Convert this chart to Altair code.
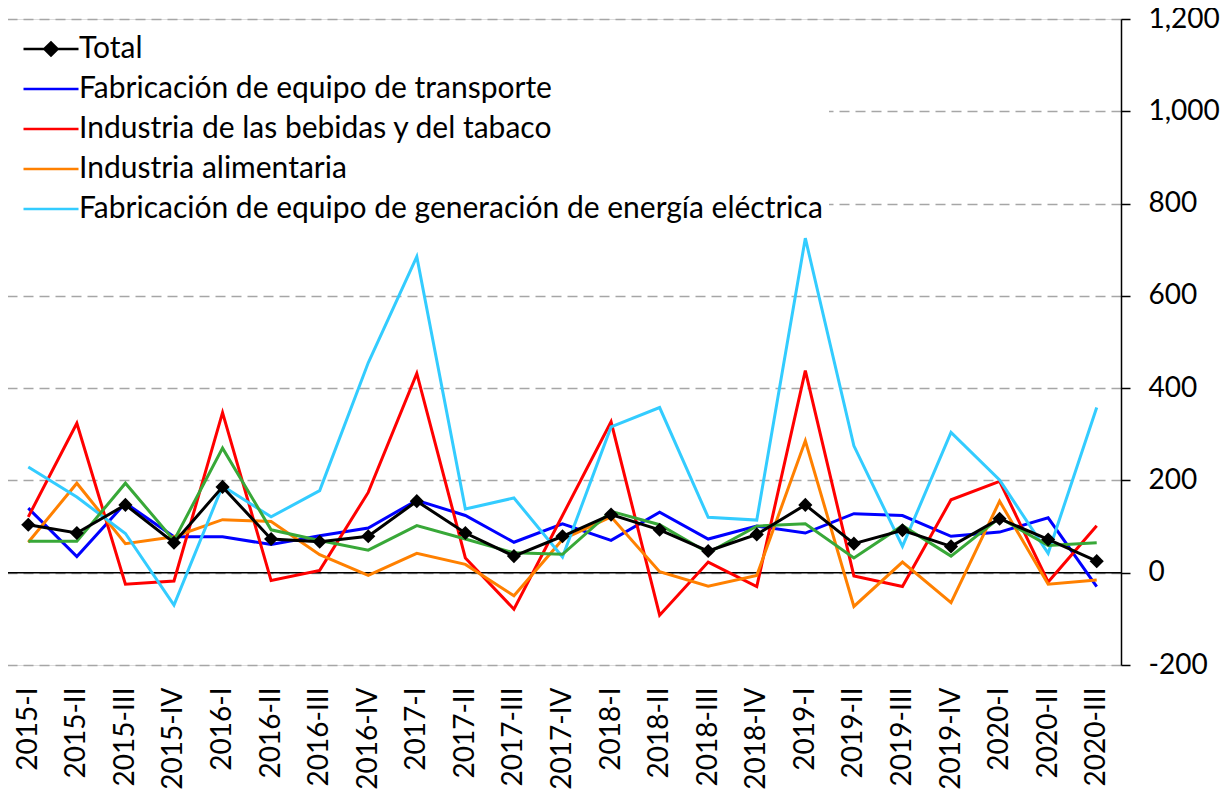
import altair as alt
import pandas as pd

quarters = ["2015-I", "2015-II", "2015-III", "2015-IV",
            "2016-I", "2016-II", "2016-III", "2016-IV",
            "2017-I", "2017-II", "2017-III", "2017-IV",
            "2018-I", "2018-II", "2018-III", "2018-IV",
            "2019-I", "2019-II", "2019-III", "2019-IV",
            "2020-I", "2020-II", "2020-III"]

total = [104, 86, 147, 65, 186, 73, 67, 79, 155, 86, 36, 79, 126, 93, 47, 83, 147, 63, 92, 57, 117, 72, 25]
transporte = [140, 35, 151, 78, 78, 61, 80, 97, 157, 124, 66, 106, 70, 131, 73, 101, 86, 128, 124, 79, 88, 119, -30]
bebidas = [121, 324, -25, -18, 347, -17, 5, 174, 432, 32, -79, 124, 327, -92, 23, -30, 438, -7, -30, 158, 198, -20, 102]
alimentaria = [66, 194, 63, 78, 115, 111, 39, -6, 42, 18, -50, 72, 121, 2, -29, -6, 286, -73, 23, -65, 155, -25, -16]
energia = [229, 164, 85, -70, 188, 121, 178, 455, 685, 138, 162, 34, 316, 358, 120, 114, 725, 275, 57, 304, 201, 42, 358]
otros = [68, 68, 194, 70, 270, 93, 70, 49, 102, 73, 43, 40, 133, 104, 43, 101, 106, 32, 102, 36, 119, 59, 65]

names = ["Total",
         "Fabricación de equipo de transporte",
         "Industria de las bebidas y del tabaco",
         "Industria alimentaria",
         "Fabricación de equipo de generación de energía eléctrica",
         "Otras industrias"]
colors = ["#000000", "#0000FF", "#FF0000", "#FF8000", "#33CCFF", "#38A838"]
values = [total, transporte, bebidas, alimentaria, energia, otros]
y_ticks = [-200, 0, 200, 400, 600, 800, 1000, 1200]

rows = []
for name, vals in zip(names, values):
    for q, v in zip(quarters, vals):
        rows.append({"quarter": q, "series": name, "value": v})
df = pd.DataFrame(rows)

FONT = "Lato"

x_enc = alt.X("quarter:N", sort=quarters, title=None,
              axis=alt.Axis(labelAngle=-90, domain=False, ticks=False, grid=False,
                            labelPadding=22, labelFont=FONT, labelFontSize=28,
                            labelColor="black", labelOverlap=False))
y_scale = alt.Scale(domain=[-200, 1200], nice=False, zero=False)
y_axis = alt.Axis(orient="right", values=y_ticks, format=",d",
                  labelExpr="replace(datum.label, '\u2212', '-')",
                  domain=True, domainColor="black", domainWidth=1.5,
                  ticks=True, tickColor="black", tickSize=9, tickWidth=1.5,
                  labelPadding=18, labelFont=FONT, labelFontSize=28,
                  labelColor="black",
                  grid=True, gridColor="#A6A6A6", gridDash=[10, 6], gridWidth=1.5)
y_enc = alt.Y("value:Q", scale=y_scale, title=None, axis=y_axis)

color_scale = alt.Scale(domain=names, range=colors)

base = alt.Chart(df)

zero_rule = alt.Chart(pd.DataFrame({"value": [0.0]})).mark_rule(
    color="black", strokeWidth=1.5).encode(y=y_enc)

draw_order = [names[1], names[2], names[3], names[4], names[5], names[0]]
line_layers = []
for nm in draw_order:
    line_layers.append(
        base.transform_filter(alt.datum.series == nm).mark_line(strokeWidth=3).encode(
            x=x_enc, y=y_enc,
            color=alt.Color("series:N", scale=color_scale, legend=None)
        )
    )

total_pts = base.transform_filter(alt.datum.series == "Total").mark_point(
    shape="diamond", filled=True, size=200, opacity=1, color="black").encode(x=x_enc, y=y_enc)

legend_names = names[:5]
legend_colors = colors[:5]
line_path = "M-2.5,0L2.5,0"
total_path = ("M-2.5,0L2.5,0"
              "M-0.6,0L0,-0.6L0.6,0L0,0.6Z"
              "M-0.4,0L0,-0.4L0.4,0L0,0.4Z"
              "M-0.2,0L0,-0.2L0.2,0L0,0.2Z")
legend_paths = [total_path, line_path, line_path, line_path, line_path]

leg_props = dict(orient="none", legendX=4, legendY=9, title=None, fillColor="white",
                 padding=6, symbolSize=484, symbolStrokeWidth=2.5, symbolOpacity=1,
                 symbolOffset=22, labelOffset=13, labelFont=FONT, labelFontSize=30,
                 labelColor="black", labelLimit=0, rowPadding=10)

legend_layer = base.transform_filter(
    alt.FieldOneOfPredicate(field="series", oneOf=legend_names)
).mark_point(filled=False, opacity=0).encode(
    x=x_enc, y=y_enc,
    color=alt.Color("series:N", scale=alt.Scale(domain=legend_names, range=legend_colors),
                    legend=alt.Legend(**leg_props)),
    shape=alt.Shape("series:N", scale=alt.Scale(domain=legend_names, range=legend_paths),
                    legend=alt.Legend(**leg_props)),
)

chart = alt.layer(zero_rule, *line_layers, total_pts, legend_layer).resolve_scale(
    color="independent", shape="independent"
).properties(
    width=1117, height=646,
    autosize=alt.AutoSizeParams(type="none"),
    padding={"left": -4, "top": 11, "right": 100, "bottom": 128},
).configure_view(strokeWidth=0).configure(font=FONT)

chart.save("out.html", embed_options={"renderer": "svg", "actions": False})
